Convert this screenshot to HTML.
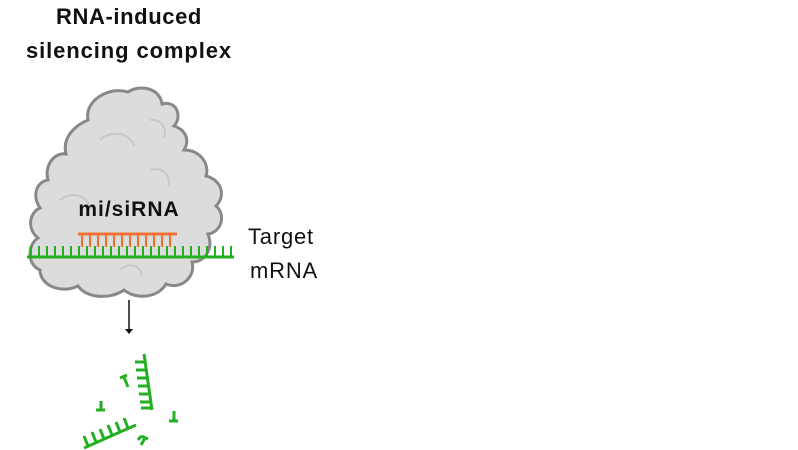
<!DOCTYPE html>
<html><head><style>
html,body{margin:0;padding:0;background:#fff;width:798px;height:450px;overflow:hidden}
</style></head><body>
<svg width="798" height="450" viewBox="0 0 798 450" xmlns="http://www.w3.org/2000/svg" font-family="Liberation Sans, sans-serif">
<text x="129" y="24" text-anchor="middle" font-size="22" font-weight="bold" letter-spacing="0.6" fill="#111">RNA-induced</text>
<text x="129" y="58" text-anchor="middle" font-size="22" font-weight="bold" letter-spacing="0.9" fill="#111">silencing complex</text>
<path d="M88,120 C84,100 110,86 128,92 C140,84 160,88 162,104 C178,100 182,118 174,126 C186,130 190,140 184,150 C200,150 210,164 206,176 C222,180 226,196 216,206 C226,214 222,232 208,234 C214,250 204,262 192,262 C196,278 180,290 166,284 C158,298 136,300 124,290 C110,300 86,298 78,286 C62,294 40,286 40,270 C26,264 28,244 38,238 C26,228 30,212 40,208 C32,196 36,182 48,180 C44,166 54,152 66,154 C62,138 74,126 88,120 Z" fill="#dcdcdc" stroke="#888" stroke-width="3"/>
<path d="M100,140 C110,130 130,132 134,146 M150,120 C160,118 168,128 164,138 M60,200 C72,190 88,196 90,208 M150,170 C162,166 172,176 168,186 M120,270 C128,262 140,264 142,276" fill="none" stroke="#c8c8c8" stroke-width="2"/>
<text x="129" y="216" text-anchor="middle" font-size="21" font-weight="bold" letter-spacing="1" fill="#111">mi/siRNA</text>
<g stroke="#f07030" stroke-width="2">
<line x1="78" y1="234" x2="177" y2="234" stroke-width="3"/>
<path d="M82,234V247M90,234V247M98,234V247M106,234V247M114,234V247M122,234V247M130,234V247M138,234V247M146,234V247M154,234V247M162,234V247M170,234V247"/>
</g>
<g stroke="#22b022" stroke-width="2">
<line x1="27" y1="257" x2="234" y2="257" stroke-width="3"/>
<path d="M31,257V246M39,257V246M47,257V246M55,257V246M63,257V246M71,257V246M79,257V246M87,257V246M95,257V246M103,257V246M111,257V246M119,257V246M127,257V246M135,257V246M143,257V246M151,257V246M159,257V246M167,257V246M175,257V246M183,257V246M191,257V246M199,257V246M207,257V246M215,257V246M223,257V246M231,257V246"/>
</g>
<text x="248" y="244" font-size="22" letter-spacing="0.8" fill="#111">Target</text>
<text x="250" y="278" font-size="22" letter-spacing="0.8" fill="#111">mRNA</text>
<line x1="129" y1="300" x2="129" y2="330" stroke="#111" stroke-width="1.5"/>
<path d="M125,329 L133,329 L129,334 Z" fill="#111"/>
<g stroke="#22b022" stroke-width="3" fill="none">
<line x1="144" y1="354" x2="152" y2="410"/>
<path d="M146,362h-11M147,370h-11M148,378h-11M149,386h-11M150,394h-11M151,402h-11M152,408h-11"/>
<line x1="84" y1="448" x2="136" y2="425"/>
<path d="M88,446l-4,-10M96,442l-4,-10M104,439l-4,-10M112,435l-4,-10M120,432l-4,-10M128,428l-4,-10"/>
<path d="M120,378l7,-3M124,377l4,10"/>
<path d="M96,410h9M101,410v-9"/>
<path d="M169,421h9M174,421v-10"/>
<path d="M141,436l7,3M145,438l-4,7M141,436l-3,4"/>
</g>
</svg>
</body></html>
